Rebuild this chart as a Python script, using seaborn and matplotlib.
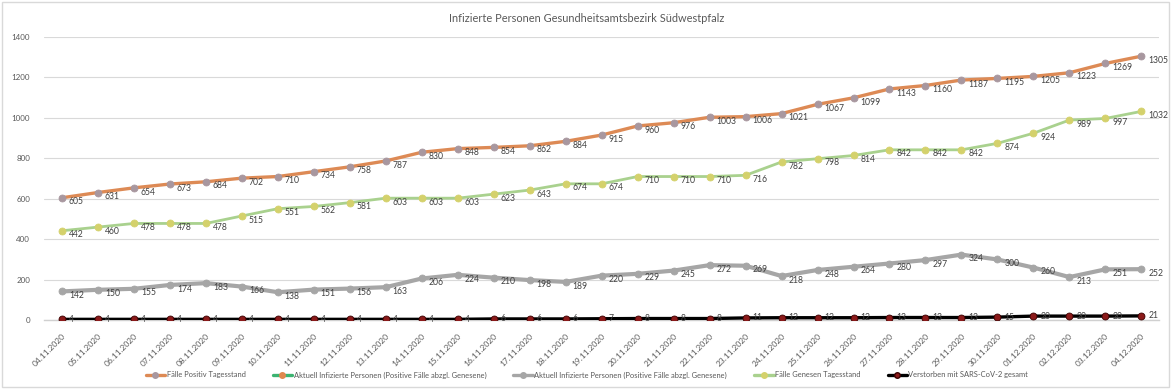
import numpy as np
import pandas as pd
import seaborn as sns
import matplotlib.pyplot as plt
from matplotlib.lines import Line2D
from matplotlib.patches import Rectangle

dates = ['04.11.2020', '05.11.2020', '06.11.2020', '07.11.2020', '08.11.2020', '09.11.2020',
         '10.11.2020', '11.11.2020', '12.11.2020', '13.11.2020', '14.11.2020', '15.11.2020',
         '16.11.2020', '17.11.2020', '18.11.2020', '19.11.2020', '20.11.2020', '21.11.2020',
         '22.11.2020', '23.11.2020', '24.11.2020', '25.11.2020', '26.11.2020', '27.11.2020',
         '28.11.2020', '29.11.2020', '30.11.2020', '01.12.2020', '02.12.2020', '03.12.2020',
         '04.12.2020']

positiv = [605, 631, 654, 673, 684, 702, 710, 734, 758, 787, 830, 848, 854, 862, 884, 915,
           960, 976, 1003, 1006, 1021, 1067, 1099, 1143, 1160, 1187, 1195, 1205, 1223, 1269, 1305]
aktuell = [142, 150, 155, 174, 183, 166, 138, 151, 156, 163, 206, 224, 210, 198, 189, 220,
           229, 245, 272, 269, 218, 248, 264, 280, 297, 324, 300, 260, 213, 251, 252]
genesen = [442, 460, 478, 478, 478, 515, 551, 562, 581, 603, 603, 603, 623, 643, 674, 674,
           710, 710, 710, 716, 782, 798, 814, 842, 842, 842, 874, 924, 989, 997, 1032]
verstorben = [4, 4, 4, 4, 4, 4, 4, 4, 4, 4, 4, 4, 6, 6, 6, 7,
              8, 8, 8, 11, 12, 12, 12, 13, 13, 13, 15, 20, 20, 20, 21]

labels = ['Fälle Positiv Tagesstand',
          'Aktuell Infizierte Personen (Positive Fälle abzgl. Genesene)',
          'Aktuell Infizierte Personen (Positive Fälle abzgl. Genesene)',
          'Fälle Genesen Tagesstand',
          'Verstorben mit SARS-CoV-2 gesamt']

sns.set_theme(style="white")
plt.rcParams['font.family'] = ['Lato', 'DejaVu Sans']

fig = plt.figure(figsize=(11.74, 3.89), dpi=100)
ax = fig.add_axes([0.0375, 0.177, 0.95, 0.728])

x = np.arange(len(dates))

# (values, line colour, marker colour, marker edge, line width, label y offset)
series = [
    (aktuell, '#a6a6a6', '#a6a6a6', '#a6a6a6', 3.0, -3),
    (genesen, '#a9d18e', '#d4d16c', '#d4d16c', 2.0, -3),
    (positiv, '#dd8a55', '#a8979f', '#a8979f', 2.4, -3),
    (verstorben, '#000000', '#8b1a1a', '#3a0000', 2.4, 0),
]

for vals, lc, mc, me, lw, dy in series:
    sns.lineplot(x=x, y=vals, ax=ax, color=lc, linewidth=lw, marker='o',
                 markersize=5, markerfacecolor=mc, markeredgecolor=me,
                 markeredgewidth=0.6, zorder=3)
    for xi, v in zip(x, vals):
        ax.annotate(str(v), (xi, v), textcoords='offset points', xytext=(5, dy),
                    ha='left', va='center', fontsize=6.2, color='#404040', zorder=4,
                    annotation_clip=False)

ax.set_xlim(-0.5, len(dates) - 0.5)
ax.set_ylim(0, 1400)
ax.set_yticks(np.arange(0, 1401, 200))
ax.yaxis.grid(True, color='#d9d9d9', linewidth=0.8)
ax.set_axisbelow(True)
for s in ['top', 'right', 'left']:
    ax.spines[s].set_visible(False)
ax.spines['bottom'].set_color('#d0d0d0')
ax.spines['bottom'].set_linewidth(1.0)

ax.set_xticks(x)
ax.set_xticklabels(dates, rotation=45, ha='right', rotation_mode='anchor',
                   fontsize=6.0, color='#595959')
ax.tick_params(axis='y', labelsize=5.8, colors='#595959', length=0, pad=10)
ax.tick_params(axis='x', length=0, pad=9)
ax.set_xlabel('')
ax.set_ylabel('')

fig.text(0.5, 0.953, 'Infizierte Personen Gesundheitsamtsbezirk Südwestpfalz',
         ha='center', va='center', fontsize=7.9, color='#595959')

handles = [
    Line2D([], [], color='#dd8a55', lw=2.4, marker='o', markersize=4,
           markerfacecolor='#a8979f', markeredgecolor='#a8979f'),
    Line2D([], [], color='#3cb371', lw=2.4, marker='o', markersize=4,
           markerfacecolor='#e0884e', markeredgecolor='#e0884e'),
    Line2D([], [], color='#a6a6a6', lw=2.4, marker='o', markersize=4,
           markerfacecolor='#a6a6a6', markeredgecolor='#a6a6a6'),
    Line2D([], [], color='#a9d18e', lw=2.4, marker='o', markersize=4,
           markerfacecolor='#d4d16c', markeredgecolor='#d4d16c'),
    Line2D([], [], color='#000000', lw=2.4, marker='o', markersize=4,
           markerfacecolor='#8b1a1a', markeredgecolor='#3a0000'),
]
fig.legend(handles, labels, loc='center', bbox_to_anchor=(0.5, 0.036), ncol=5,
           frameon=False, fontsize=5.4, handlelength=2.6, handletextpad=0.2,
           columnspacing=3.6, labelcolor='#595959')

fig.add_artist(Rectangle((0.002, 0.005), 0.994, 0.99, transform=fig.transFigure,
                         fill=False, edgecolor='#d9d9d9', linewidth=1.0))

fig.savefig('out.png', dpi=100)
